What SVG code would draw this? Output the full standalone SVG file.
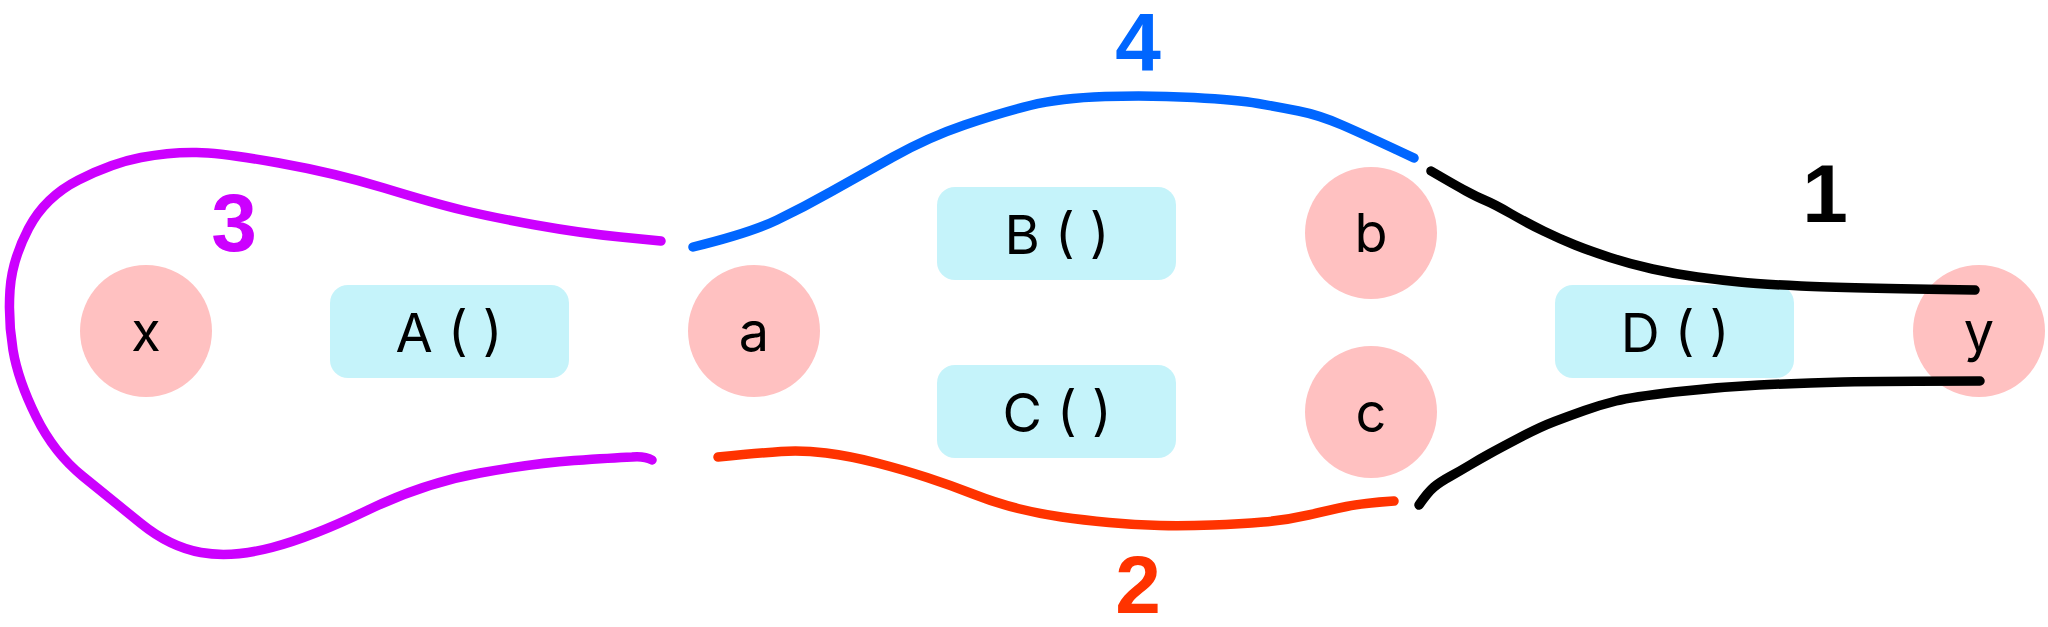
<svg xmlns="http://www.w3.org/2000/svg" width="2048" height="627" viewBox="0 0 2048 627">
<style>
.var{fill:#ffc1c1}
.fn{fill:#c5f3fa}
.lbl{font-family:Inter,"Noto Sans","Liberation Sans",sans-serif;font-size:54px;fill:#000;text-anchor:middle}
.num{font-family:"Liberation Sans",Arial,sans-serif;font-weight:bold;font-size:82px;text-anchor:middle}
.wire{fill:none;stroke-width:9.5;stroke-linecap:round;stroke-linejoin:round}
</style>
<rect width="2048" height="627" fill="#fff"/>
<g id="node-x"><circle class="var" cx="146" cy="331" r="66"/><text class="lbl" x="146" y="351">x</text></g>
<g id="node-A"><rect class="fn" x="330" y="285" width="239" height="93" rx="18"/><text class="lbl" x="449" y="352">A ( )</text></g>
<g id="node-a"><circle class="var" cx="754" cy="331" r="66"/><text class="lbl" x="754" y="351">a</text></g>
<g id="node-B"><rect class="fn" x="937" y="187" width="239" height="93" rx="18"/><text class="lbl" x="1057" y="254">B ( )</text></g>
<g id="node-C"><rect class="fn" x="937" y="365" width="239" height="93" rx="18"/><text class="lbl" x="1057" y="432">C ( )</text></g>
<g id="node-b"><circle class="var" cx="1371" cy="233" r="66"/><text class="lbl" x="1371" y="252">b</text></g>
<g id="node-c"><circle class="var" cx="1371" cy="412" r="66"/><text class="lbl" x="1371" y="432">c</text></g>
<g id="node-D"><rect class="fn" x="1555" y="285" width="239" height="93" rx="18"/><text class="lbl" x="1675" y="352">D ( )</text></g>
<g id="node-y"><circle class="var" cx="1979" cy="331" r="66"/><text class="lbl" x="1979" y="351">y</text></g>
<g id="connectors">
<g id="path-3">
<path class="wire" stroke="#cc00ff" d="M661,241 L620.5,237 Q580,233 535.5,225 Q491,217 462,210 Q433,203 384,188 Q335,173 279,163 Q223,153 196.5,152.5 Q170,152 141,157.5 Q112,163 78.5,180 Q45,197 28.5,228.5 Q12,260 10,290 Q8,320 13,350 Q18,380 36,416.5 Q54,453 83,476.5 Q112,500 141,523.5 Q170,547 201,552.5 Q232,558 272,547.5 Q312,537 368,510 Q424,483 480,473 Q536,463 574,460.5 Q612,458 632,457 Q645,456 652,460"/>
<text class="num" fill="#cc00ff" x="234" y="251">3</text>
</g>
<g id="path-4">
<path class="wire" stroke="#0066ff" d="M693,247 Q750,233 777,220 Q804,207 830.5,192 Q857,177 893,157 Q929,137 964.5,125 Q1000,113 1030,105.5 Q1060,98 1105,96.5 Q1150,95 1194,97.5 Q1238,100 1258,103.5 Q1278,107 1298.5,111 Q1319,115 1342,125 Q1365,135 1414,158"/>
<text class="num" fill="#0066ff" x="1138" y="70">4</text>
</g>
<g id="path-2">
<path class="wire" stroke="#ff3300" d="M718,457 Q760,453 781,451.5 Q802,450 826,453 Q850,456 877,463 Q904,470 927,477.5 Q950,485 973,494 Q996,503 1018,508.5 Q1040,514 1061.5,517 Q1083,520 1109,522.5 Q1135,525 1160,525.5 Q1185,526 1212.5,525 Q1240,524 1263.5,522 Q1287,520 1308.5,515 Q1330,510 1346.5,506.5 Q1363,503 1394,501"/>
<text class="num" fill="#ff3300" x="1138" y="613">2</text>
</g>
<g id="path-1">
<path class="wire" stroke="#000" stroke-width="10" d="M1431,171 Q1455,185 1466,191 Q1477,197 1485.5,200.5 Q1494,204 1510.5,213.5 Q1527,223 1543.5,231 Q1560,239 1575,245 Q1590,251 1610,257.5 Q1630,264 1652.5,269 Q1675,274 1697.5,277 Q1720,280 1739.5,282 Q1759,284 1801,286 Q1843,288 1975,290"/>
<path class="wire" stroke="#000" stroke-width="10" d="M1419,505 Q1428,492 1434,487 Q1440,482 1450,476.5 Q1460,471 1470,465 Q1480,459 1490,453.5 Q1500,448 1520,437.5 Q1540,427 1554.5,421.5 Q1569,416 1584.5,410.5 Q1600,405 1616,401 Q1632,397 1674.5,392 Q1717,387 1759,385 Q1801,383 1843,382 Q1885,381 1980,381"/>
<text class="num" fill="#000" x="1825" y="222">1</text>
</g>
</g>
</svg>
